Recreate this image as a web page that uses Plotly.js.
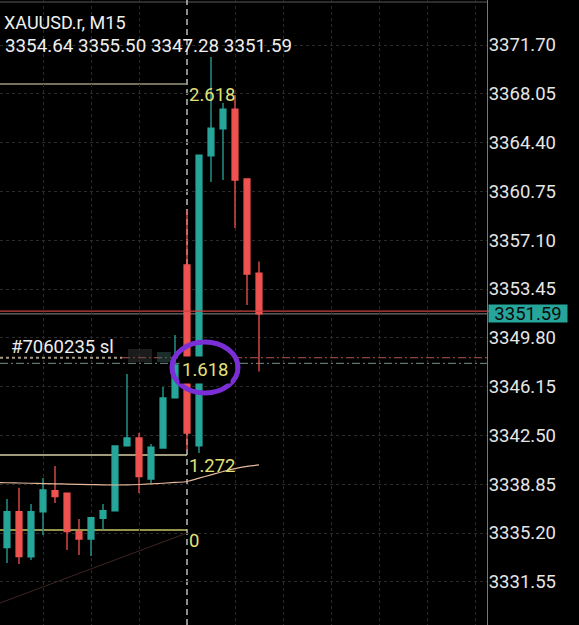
<!DOCTYPE html>
<html>
<head>
<meta charset="utf-8">
<script src="https://cdn.plot.ly/plotly-3.0.1.min.js"></script>
<style>html,body{margin:0;padding:0;background:#000;}#chart{width:579px;height:625px;}</style>
</head>
<body>
<div id="chart"></div>
<script>
// ---- data ----
const bars  = [0,1,2,3,4,5,6,7,8,9,10,11,12,13,14,15,16,17,18,19,20,21];
const open  = [3334.10,3336.79,3333.41,3336.79,3338.36,3338.19,3335.30,3334.75,3336.30,3336.85,3341.71,3342.31,3339.24,3341.56,3345.30,3355.25,3341.71,3363.40,3365.42,3366.91,3361.68,3354.64];
const high  = [3337.74,3338.59,3337.37,3339.31,3340.21,3338.19,3336.25,3336.34,3337.37,3341.71,3347.09,3342.68,3341.86,3346.12,3350.01,3359.36,3363.47,3370.80,3367.36,3367.96,3361.68,3355.50];
const low   = [3332.96,3332.88,3333.18,3335.05,3337.44,3333.93,3333.56,3333.48,3335.43,3336.85,3341.71,3338.19,3338.94,3341.56,3345.30,3341.41,3341.18,3361.45,3361.60,3358.01,3352.25,3347.28];
const close = [3336.79,3333.43,3336.79,3338.42,3337.92,3335.30,3334.75,3336.34,3336.87,3341.71,3342.31,3339.41,3341.63,3345.30,3347.77,3342.68,3363.47,3365.49,3366.91,3361.60,3354.57,3351.59];
const maBars   = [-0.6,0,1,2,3,4,5,6,7,8,9,10,11,12,13,14,15,16,17,18,19,20,21];
const maValues = [3338.97,3338.96,3338.94,3338.92,3338.90,3338.88,3338.86,3338.84,3338.82,3338.80,3338.79,3338.80,3338.83,3338.87,3338.92,3338.98,3339.05,3339.30,3339.55,3339.80,3340.02,3340.18,3340.29];
const trendX = [-0.6, 15];
const trendY = [3329.96, 3335.20];
const fibLabels = ['2.618','1.272','0'];
const fibPrices = [3368.78, 3341.03, 3335.42];
const fibColors = ['#9a9a80','#d6cfa6','#c4c466'];
const fib1618Label = '1.618';
const fib1618Price = 3347.39;
const yTicks = [3331.55,3335.20,3338.85,3342.50,3346.15,3349.80,3353.45,3357.10,3360.75,3364.40,3368.05,3371.70];
const yTickText = ['3331.55','3335.20','3338.85','3342.50','3346.15','3349.80','3353.45','3357.10','3360.75','3364.40','3368.05','3371.70'];
const symbolTitle = 'XAUUSD.r, M15';
const ohlcText = '3354.64 3355.50 3347.28 3351.59';
const bidPrice = 3351.59;
const askPrice = 3351.80;
const slPrice = 3348.31;
const slLabel = '#7060235 sl';
const level2Price = 3347.89;
const separatorBar = 15;

// ---- geometry helpers ----
const W = 579, H = 625, PW = 487;
const xMin = -7/12, xMax = xMin + PW/12;
const yMax = 3375.066, yMin = yMax - H/13.37;
const px = x => x / PW;          // pixel -> paper x
const py = y => 1 - y / H;       // pixel -> paper y
const ix = x => xMin + x / 12;   // pixel -> bar index
const pr = y => yMax - y / 13.37;// pixel -> price

const FONT = 'Roboto, "Noto Sans", sans-serif';

const traces = [
  {type:'scatter', mode:'lines', x:trendX, y:trendY, line:{color:'#3e2622', width:1}, hoverinfo:'skip'},
  {type:'scatter', mode:'lines', x:maBars, y:maValues, line:{color:'#e6b89c', width:1.2, shape:'spline'}, hoverinfo:'skip'},
  {type:'candlestick', x:bars, open:open, high:high, low:low, close:close,
   increasing:{line:{color:'#26a69a', width:1.3}, fillcolor:'#26a69a'},
   decreasing:{line:{color:'#ef5350', width:1.3}, fillcolor:'#ef5350'},
   whiskerwidth:0, hoverinfo:'skip'}
];

const shapes = [];
shapes.push({type:'line', xref:'paper', yref:'paper', x0:0, x1:1, y0:py(2), y1:py(2), line:{color:'#5a5a5a', width:1}, layer:'below'});
shapes.push({type:'line', xref:'x', yref:'paper', x0:separatorBar, x1:separatorBar, y0:0, y1:1, line:{color:'#d8d8d8', width:1.3, dash:'6px,4px'}, layer:'below'});
fibPrices.forEach((p,i)=>{
  shapes.push({type:'line', xref:'x', yref:'y', x0:xMin, x1:separatorBar, y0:p, y1:p, line:{color:fibColors[i], width:1.5}, layer:'below'});
});
shapes.push({type:'line', xref:'paper', yref:'y', x0:0, x1:px(122), y0:slPrice, y1:slPrice, line:{color:'#a89a80', width:2, dash:'dot'}, layer:'below'});
shapes.push({type:'line', xref:'paper', yref:'y', x0:px(122), x1:1, y0:slPrice, y1:slPrice, line:{color:'#b0564e', width:1, dash:'8px,3px,2px,3px'}, layer:'below'});
shapes.push({type:'line', xref:'paper', yref:'y', x0:0, x1:1, y0:level2Price, y1:level2Price, line:{color:'#6f918b', width:1, dash:'8px,3px,2px,3px'}, layer:'below'});
shapes.push({type:'rect', xref:'paper', yref:'paper', x0:px(128), x1:px(152), y0:py(362), y1:py(349), fillcolor:'rgba(70,70,70,0.4)', line:{width:0}, layer:'below'});
shapes.push({type:'rect', xref:'paper', yref:'paper', x0:px(157), x1:px(171), y0:py(362), y1:py(352), fillcolor:'rgba(60,100,95,0.45)', line:{width:0}, layer:'below'});
shapes.push({type:'line', xref:'paper', yref:'y', x0:0, x1:px(567), y0:askPrice, y1:askPrice, line:{color:'#c8433f', width:1.2}});
shapes.push({type:'line', xref:'paper', yref:'y', x0:0, x1:1, y0:bidPrice, y1:bidPrice, line:{color:'#8c8c8c', width:1}, layer:'below'});
shapes.push({type:'circle', xref:'x', yref:'y', x0:ix(172), x1:ix(238), y0:pr(393), y1:pr(342), line:{color:'#7a2fd6', width:5}});

const annotations = [
  {xref:'paper', yref:'paper', x:px(2), y:py(22), xanchor:'left', yanchor:'middle', text:symbolTitle, showarrow:false, font:{family:FONT, size:18, color:'#f0f0f0'}},
  {xref:'paper', yref:'paper', x:px(3), y:py(46), xanchor:'left', yanchor:'middle', text:ohlcText, showarrow:false, font:{family:FONT, size:18.8, color:'#f0f0f0'}},
  {xref:'paper', yref:'paper', x:px(9), y:py(347), xanchor:'left', yanchor:'middle', text:slLabel, showarrow:false, font:{family:FONT, size:18.5, color:'#eeeeee'}},
  {xref:'x', yref:'y', x:ix(205), y:fib1618Price, xanchor:'center', yanchor:'middle', text:fib1618Label, showarrow:false, bgcolor:'#000', borderpad:2, font:{family:FONT, size:18.5, color:'#e2e27a'}},
  {xref:'paper', yref:'y', x:px(488), y:bidPrice, xanchor:'left', yanchor:'middle', text:bidPrice.toFixed(2), showarrow:false, bgcolor:'#26a69a', borderpad:0, width:78, height:17, font:{family:FONT, size:18.5, color:'#0c0c0c'}}
];
fibLabels.forEach((t,i)=>{
  annotations.push({xref:'x', yref:'y', x:separatorBar, y:fibPrices[i], xanchor:'left', yanchor:'top', yshift:2, text:t, showarrow:false, font:{family:FONT, size:18.5, color:'#e2e27a'}});
});

const layout = {
  width:W, height:H,
  margin:{l:0, r:W-PW, t:0, b:0, pad:0},
  paper_bgcolor:'#000', plot_bgcolor:'#000',
  showlegend:false,
  xaxis:{range:[xMin,xMax], showticklabels:false, tickvals:[3,7,11,19,23,27,31,35,39], ticks:'',
         showgrid:true, gridcolor:'#2b2b2b', griddash:'dot', gridwidth:1, zeroline:false,
         rangeslider:{visible:false}, fixedrange:true, showline:false},
  yaxis:{side:'right', range:[yMin,yMax], tickvals:yTicks, ticktext:yTickText,
         tickfont:{family:FONT, size:18.5, color:'#e6e6e6'}, ticks:'', ticklen:0, ticklabelstandoff:-3,
         showline:true, linecolor:'#777', linewidth:1, showgrid:true, gridcolor:'#2b2b2b', griddash:'dot',
         zeroline:false, fixedrange:true},
  shapes:shapes,
  annotations:annotations
};

Plotly.newPlot('chart', traces, layout, {staticPlot:true, displayModeBar:false});
</script>
</body>
</html>
